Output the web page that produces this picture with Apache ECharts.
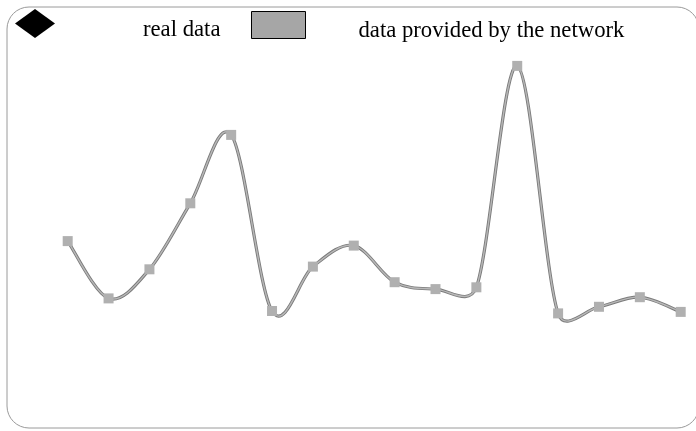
<!DOCTYPE html>
<html>
<head>
<meta charset="utf-8">
<script src="https://cdn.jsdelivr.net/npm/echarts@6/dist/echarts.min.js"></script>
<style>html,body{margin:0;padding:0;background:#fff}#c{width:696px;height:431px}</style>
</head>
<body>
<div id="c"></div>
<script>
var categories = ['1','2','3','4','5','6','7','8','9','10','11','12','13','14','15','16'];
var networkValues = [36.3, 17.2, 26.9, 48.9, 71.7, 13.0, 27.8, 34.8, 22.6, 20.3, 20.9, 94.7, 12.2, 14.4, 17.6, 12.7];
var realValues = [];
var seriesNames = ['real data', 'data provided by the network'];

function renderSegment(params, api) {
  var i = params.dataIndex;
  var n = networkValues.length;
  if (i >= n - 1) return null;
  function P(k) {
    k = Math.max(0, Math.min(n - 1, k));
    return api.coord([k, networkValues[k]]);
  }
  function dist(a, b) { return Math.sqrt((a[0]-b[0])*(a[0]-b[0]) + (a[1]-b[1])*(a[1]-b[1])); }
  var p0 = P(i - 1), p1 = P(i), p2 = P(i + 1), p3 = P(i + 2);
  var d12 = dist(p1, p2);
  var d02 = dist(p0, p2);
  var a1 = Math.min(d02 / 6, d12 / 2);
  var u1 = d02 > 0 ? [(p2[0]-p0[0]) / d02, (p2[1]-p0[1]) / d02] : [0, 0];
  var d13 = dist(p1, p3);
  var a2 = Math.min(d13 / 6, d12 / 2);
  var u2 = d13 > 0 ? [(p3[0]-p1[0]) / d13, (p3[1]-p1[1]) / d13] : [0, 0];
  var shape = {
    x1: p1[0], y1: p1[1], x2: p2[0], y2: p2[1],
    cpx1: p1[0] + u1[0] * a1, cpy1: p1[1] + u1[1] * a1,
    cpx2: p2[0] - u2[0] * a2, cpy2: p2[1] - u2[1] * a2
  };
  return {
    type: 'group',
    children: [
      {type: 'bezierCurve', shape: shape, style: {fill: null, stroke: '#7a7a7a', lineWidth: 3.2}},
      {type: 'bezierCurve', shape: shape, style: {fill: null, stroke: '#b8b8b8', lineWidth: 1.4}}
    ]
  };
}

var chart = echarts.init(document.getElementById('c'), null, {renderer: 'canvas'});
chart.setOption({
  animation: false,
  backgroundColor: '#fff',
  textStyle: {fontFamily: 'Liberation Serif'},
  graphic: [{
    type: 'rect', z: -1,
    shape: {x: 7, y: 7, width: 692, height: 421, r: 22},
    style: {fill: 'none', stroke: '#9a9a9a', lineWidth: 1}
  }],
  legend: [{
    left: 15, top: 9, padding: 0,
    itemWidth: 40, itemHeight: 29,
    data: [{name: seriesNames[0], icon: 'diamond', itemStyle: {color: '#000'}}],
    formatter: '{t|{name}}',
    textStyle: {
      fontFamily: 'Liberation Serif', fontSize: 22.7, color: '#000',
      rich: {t: {fontFamily: 'Liberation Serif', fontSize: 22.7, color: '#000', padding: [14, 0, 0, 83]}}
    }
  }, {
    left: 251, top: 11, padding: 0,
    itemWidth: 54, itemHeight: 27,
    data: [{name: seriesNames[1], icon: 'rect', itemStyle: {color: '#a6a6a6', borderColor: '#000', borderWidth: 1}}],
    formatter: '{t|{name}}',
    textStyle: {
      fontFamily: 'Liberation Serif', fontSize: 22.7, color: '#000',
      rich: {t: {fontFamily: 'Liberation Serif', fontSize: 22.7, color: '#000', padding: [12, 0, 0, 48]}}
    }
  }],
  grid: {left: 67.7, right: 15.3, top: 50, height: 300},
  xAxis: {type: 'category', data: categories, boundaryGap: false, show: false},
  yAxis: {type: 'value', min: 0, max: 100, show: false},
  series: [{
    name: seriesNames[0], type: 'line', data: realValues, itemStyle: {color: '#000'}, symbol: 'diamond'
  }, {
    name: 'curve', type: 'custom', data: networkValues, renderItem: renderSegment, silent: true, z: 1,
    encode: {x: -1, y: 0}
  }, {
    name: seriesNames[1], type: 'line', data: networkValues,
    symbol: 'rect', symbolSize: 10, showAllSymbol: true,
    itemStyle: {color: '#b0b0b0', borderWidth: 0},
    lineStyle: {opacity: 0, width: 0}, z: 2
  }]
});
</script>
</body>
</html>
